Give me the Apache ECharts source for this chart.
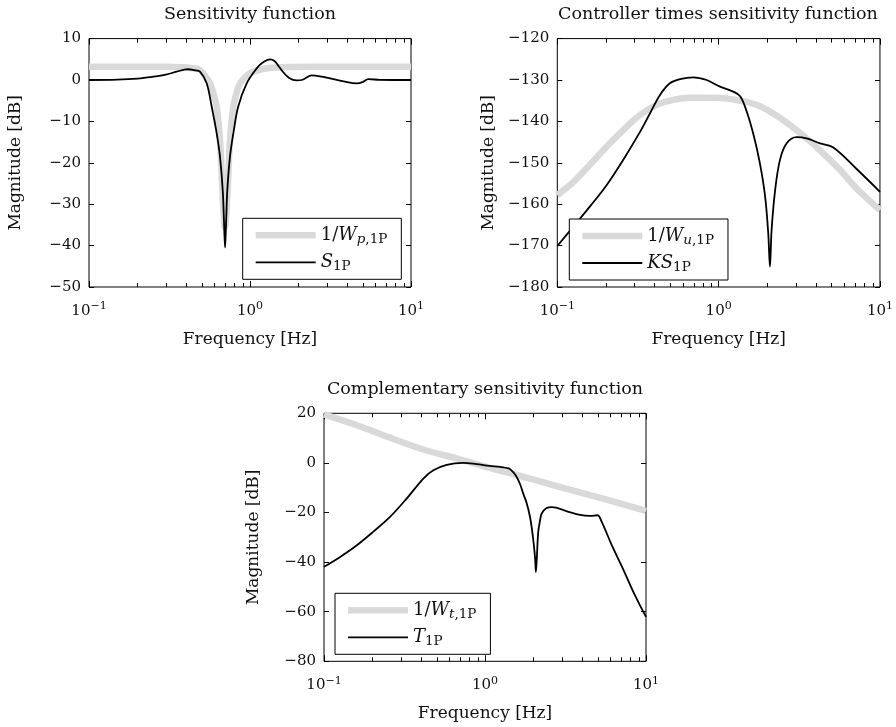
<!DOCTYPE html>
<html><head><meta charset="utf-8">
<script src="https://cdn.jsdelivr.net/npm/echarts@6/dist/echarts.min.js"></script>
<style>html,body{margin:0;padding:0;background:#fff}#c{width:896px;height:727px}</style>
</head><body><div id="c"></div>
<script>
// ---------- data ----------
// Panel 1: Sensitivity function
const wpFreq = [0.1,0.2,0.3,0.38,0.43,0.489,0.53,0.565,0.595,0.621,0.651,0.667,0.682,0.698,0.717,0.734,0.751,0.788,0.83,0.867,1.0,1.27,1.6,2.5,10];
const wpMag  = [3.2,3.2,3.2,3.1,2.9,2.4,0.8,-0.8,-3.5,-6.4,-14.5,-22.5,-30.6,-35.6,-30.6,-22.5,-14.5,-6.4,-2.8,-0.8,1.6,2.8,3.1,3.2,3.2];
const sFreq = [0.1,0.15,0.2,0.25,0.3,0.35,0.41,0.45,0.489,0.538,0.578,0.621,0.651,0.677,0.690,0.700,0.710,0.723,0.751,0.788,0.845,0.954,1.10,1.2,1.33,1.42,1.49,1.6,1.75,1.95,2.1,2.42,2.8,3.14,3.89,4.6,5.0,5.43,6.4,10];
const sMag  = [0,0.1,0.35,0.8,1.3,2.0,2.6,2.4,2.0,-0.8,-6.4,-12.9,-18.5,-26.6,-34.6,-40.5,-34.6,-26.6,-18.5,-12.9,-6.4,-0.8,2.8,4.2,5.0,4.6,3.6,2.0,0.5,-0.1,0.0,1.1,0.8,0.4,-0.4,-0.8,-0.5,0.2,0.05,0];
// Panel 2: Controller times sensitivity function
const wuFreq = [0.1,0.126,0.159,0.202,0.256,0.325,0.413,0.524,0.664,0.843,1.07,1.36,1.72,2.18,2.77,3.51,4.45,5.65,7.17,10];
const wuMag  = [-157.8,-154.6,-150.5,-146.1,-142.1,-138.5,-136.0,-134.8,-134.3,-134.3,-134.4,-135.0,-136.0,-138.1,-140.9,-144.1,-147.7,-151.7,-156.2,-161.4];
const ksFreq = [0.1,0.126,0.159,0.202,0.256,0.325,0.375,0.433,0.499,0.576,0.697,0.843,1.02,1.23,1.36,1.49,1.64,1.80,1.94,2.03,2.08,2.13,2.24,2.40,2.64,3.04,3.51,4.25,5.14,7.17,10];
const ksMag  = [-170.1,-165.4,-160.6,-155.4,-149.3,-142.6,-138.1,-133.6,-130.8,-129.8,-129.35,-130.0,-131.6,-132.8,-133.9,-137.5,-143.0,-150.0,-158.0,-167.0,-175.1,-166.2,-156.6,-149.3,-145.3,-143.8,-144.1,-145.3,-146.3,-151.5,-157.0];
// Panel 3: Complementary sensitivity function
const wtFreq = [0.1,0.16,0.257,0.414,0.667,1.07,1.73,2.79,4.49,7.23,10];
const wtMag  = [19.6,15.2,10.2,5.4,1.8,-2.0,-5.6,-9.4,-13.0,-16.7,-19.4];
const tFreq = [0.1,0.126,0.16,0.202,0.257,0.326,0.414,0.478,0.578,0.733,0.887,1.07,1.24,1.40,1.46,1.55,1.65,1.73,1.81,1.90,1.95,2.01,2.05,2.07,2.10,2.14,2.20,2.25,2.40,2.6,3.2,3.9,4.5,5.0,5.31,6.2,7.23,8.34,10];
const tMag  = [-41.9,-37.9,-33.2,-27.8,-21.8,-14.4,-6.3,-3.0,-0.8,0,-0.5,-1.2,-1.6,-2.2,-3.0,-5.0,-8.5,-12.5,-16.0,-21.5,-26.0,-33.0,-39.0,-44.0,-38.0,-28.0,-23.0,-20.4,-18.3,-17.8,-19.4,-21.0,-21.4,-21.1,-23.8,-33.9,-43.0,-52.0,-62.1];

// axis ticks / labels
const majorTicks = [0.1, 1, 10];
const majorExp = ['\u22121', '0', '1'];
const minorTicks = [0.2,0.3,0.4,0.5,0.6,0.7,0.8,0.9,2,3,4,5,6,7,8,9];
const titles = ['Sensitivity function', 'Controller times sensitivity function', 'Complementary sensitivity function'];
const yRanges = [[-50, 10, 10], [-180, -120, 10], [-80, 20, 20]];
const legendNames = [['1/W_p,1P', 'S_1P'], ['1/W_u,1P', 'KS_1P'], ['1/W_t,1P', 'T_1P']];
const legendRich = {
  '1/W_p,1P': '{n|1/}{i|W}{si|p}{s|,1P}', 'S_1P': '{i|S}{s|1P}',
  '1/W_u,1P': '{n|1/}{i|W}{si|u}{s|,1P}', 'KS_1P': '{i|KS}{s|1P}',
  '1/W_t,1P': '{n|1/}{i|W}{si|t}{s|,1P}', 'T_1P': '{i|T}{s|1P}'
};
const seriesData = [[wpFreq, wpMag, sFreq, sMag], [wuFreq, wuMag, ksFreq, ksMag], [wtFreq, wtMag, tFreq, tMag]];

// ---------- layout ----------
const FONT = 'DejaVu Serif';
const TXT = '#111';
const GRAY = '#d9d9d9';
const grids = [
  {left: 89, top: 38.6, width: 322, height: 248.4},
  {left: 557.3, top: 38.6, width: 322.7, height: 248.4},
  {left: 324, top: 413.3, width: 322, height: 248}
];
const titlePos = [[250, 5], [718, 5], [485, 380]];
const legendPos = [{left: 242.7, top: 218.3}, {left: 569.3, top: 219}, {left: 335, top: 593.3}];
const yNameGap = [65, 60, 62];

const pairs = (f, m) => f.map((v, i) => [v, m[i]]);
const richLabel = {
  b: {fontFamily: FONT, fontSize: 15, color: TXT, lineHeight: 20},
  sup: {fontFamily: FONT, fontSize: 11, color: TXT, lineHeight: 6, verticalAlign: 'top'}
};
const legendTextRich = {
  n: {fontFamily: FONT, fontSize: 18, color: TXT, lineHeight: 22},
  i: {fontFamily: FONT, fontSize: 18, fontStyle: 'italic', color: TXT, lineHeight: 22},
  si: {fontFamily: FONT, fontSize: 13.5, fontStyle: 'italic', color: TXT, lineHeight: 12, verticalAlign: 'bottom'},
  s: {fontFamily: FONT, fontSize: 13.5, color: TXT, lineHeight: 12, verticalAlign: 'bottom'}
};

const option = {
  backgroundColor: '#fff', animation: false,
  title: [], grid: [], xAxis: [], yAxis: [], series: [], legend: []
};

for (let p = 0; p < 3; p++) {
  option.grid.push(Object.assign({show: true, borderColor: '#000', borderWidth: 1, backgroundColor: 'transparent', containLabel: false}, grids[p]));
  option.title.push({text: titles[p], left: titlePos[p][0], top: titlePos[p][1], textAlign: 'center', padding: 0,
    textStyle: {fontFamily: FONT, fontSize: 17.5, fontWeight: 'normal', color: TXT}});
  const baseX = {type: 'log', logBase: 10, min: 0.1, max: 10, gridIndex: p, splitLine: {show: false},
    axisLine: {show: false, onZero: false}};
  option.xAxis.push(Object.assign({}, baseX, {position: 'bottom',
    axisTick: {inside: true, length: 6, lineStyle: {color: '#000', width: 1}},
    axisLabel: {margin: 14, formatter: v => {
      const k = majorTicks.findIndex(t => Math.abs(t - v) / t < 1e-6);
      return '{b|10}{sup|' + (k >= 0 ? majorExp[k] : '') + '}';
    }, rich: richLabel},
    name: 'Frequency [Hz]', nameLocation: 'middle', nameGap: 44,
    nameTextStyle: {fontFamily: FONT, fontSize: 17, color: TXT}}));
  option.xAxis.push(Object.assign({}, baseX, {position: 'top',
    axisTick: {inside: true, length: 6, lineStyle: {color: '#000', width: 1}}, axisLabel: {show: false}}));
  const [ymin, ymax, yint] = yRanges[p];
  option.yAxis.push({type: 'value', gridIndex: p, min: ymin, max: ymax, interval: yint, position: 'left',
    splitLine: {show: false}, axisLine: {show: false, onZero: false},
    axisTick: {inside: true, length: 5, lineStyle: {color: '#000'}},
    axisLabel: {margin: 8, fontFamily: FONT, fontSize: 15, color: TXT, formatter: v => String(v).replace('-', '\u2212')},
    name: 'Magnitude [dB]', nameLocation: 'middle', nameRotate: 90, nameGap: yNameGap[p],
    nameTextStyle: {fontFamily: FONT, fontSize: 17, color: TXT}});
  option.yAxis.push({type: 'value', gridIndex: p, min: ymin, max: ymax, interval: yint, position: 'right',
    splitLine: {show: false}, axisLine: {show: false, onZero: false},
    axisTick: {inside: true, length: 5, lineStyle: {color: '#000'}}, axisLabel: {show: false}});
  const [gf, gm, bf, bm] = seriesData[p];
  option.series.push({type: 'line', name: legendNames[p][0], xAxisIndex: 2 * p, yAxisIndex: 2 * p,
    data: pairs(gf, gm), symbol: 'none', smooth: 0.35, silent: true,
    lineStyle: {color: GRAY, width: 6.5}, itemStyle: {color: GRAY}, z: 2});
  option.series.push({type: 'line', name: legendNames[p][1], xAxisIndex: 2 * p, yAxisIndex: 2 * p,
    data: pairs(bf, bm), symbol: 'none', smooth: 0.35, silent: true,
    lineStyle: {color: '#000', width: 1.8}, itemStyle: {color: '#000'}, z: 3});
  // minor log ticks on top and bottom edges, positioned by the log axis
  option.series.push({type: 'custom', xAxisIndex: 2 * p, yAxisIndex: 2 * p, silent: true, z: 6, clip: false,
    encode: {x: 0, y: 1},
    data: minorTicks.map(f => [f, ymin]),
    renderItem: (params, api) => {
      const f = api.value(0);
      const b = api.coord([f, ymin]);
      const t = api.coord([f, ymax]);
      const x = Math.round(b[0]) + 0.5;
      return {type: 'group', children: [
        {type: 'line', shape: {x1: x, y1: b[1], x2: x, y2: b[1] - 4}, style: {stroke: '#000', lineWidth: 1}},
        {type: 'line', shape: {x1: x, y1: t[1], x2: x, y2: t[1] + 4}, style: {stroke: '#000', lineWidth: 1}}
      ]};
    }});
  option.legend.push(Object.assign({
    data: [
      {name: legendNames[p][0], icon: 'path://M0 0H60V6.5H0Z', itemStyle: {color: GRAY, borderWidth: 0}},
      {name: legendNames[p][1], icon: 'path://M0 0H60V1.8H0Z', itemStyle: {color: '#000', borderWidth: 0}}
    ],
    orient: 'vertical', selectedMode: false, symbolKeepAspect: true,
    backgroundColor: '#fff', borderColor: '#000', borderWidth: 1, borderRadius: 0,
    padding: [8, 14, 6, 13], itemWidth: 60, itemHeight: 14, itemGap: 7,
    formatter: n => legendRich[n],
    textStyle: {fontFamily: FONT, fontSize: 18, color: TXT, rich: legendTextRich}
  }, legendPos[p]));
}

const chart = echarts.init(document.getElementById('c'), null, {renderer: 'canvas'});
chart.setOption(option);
</script></body></html>
